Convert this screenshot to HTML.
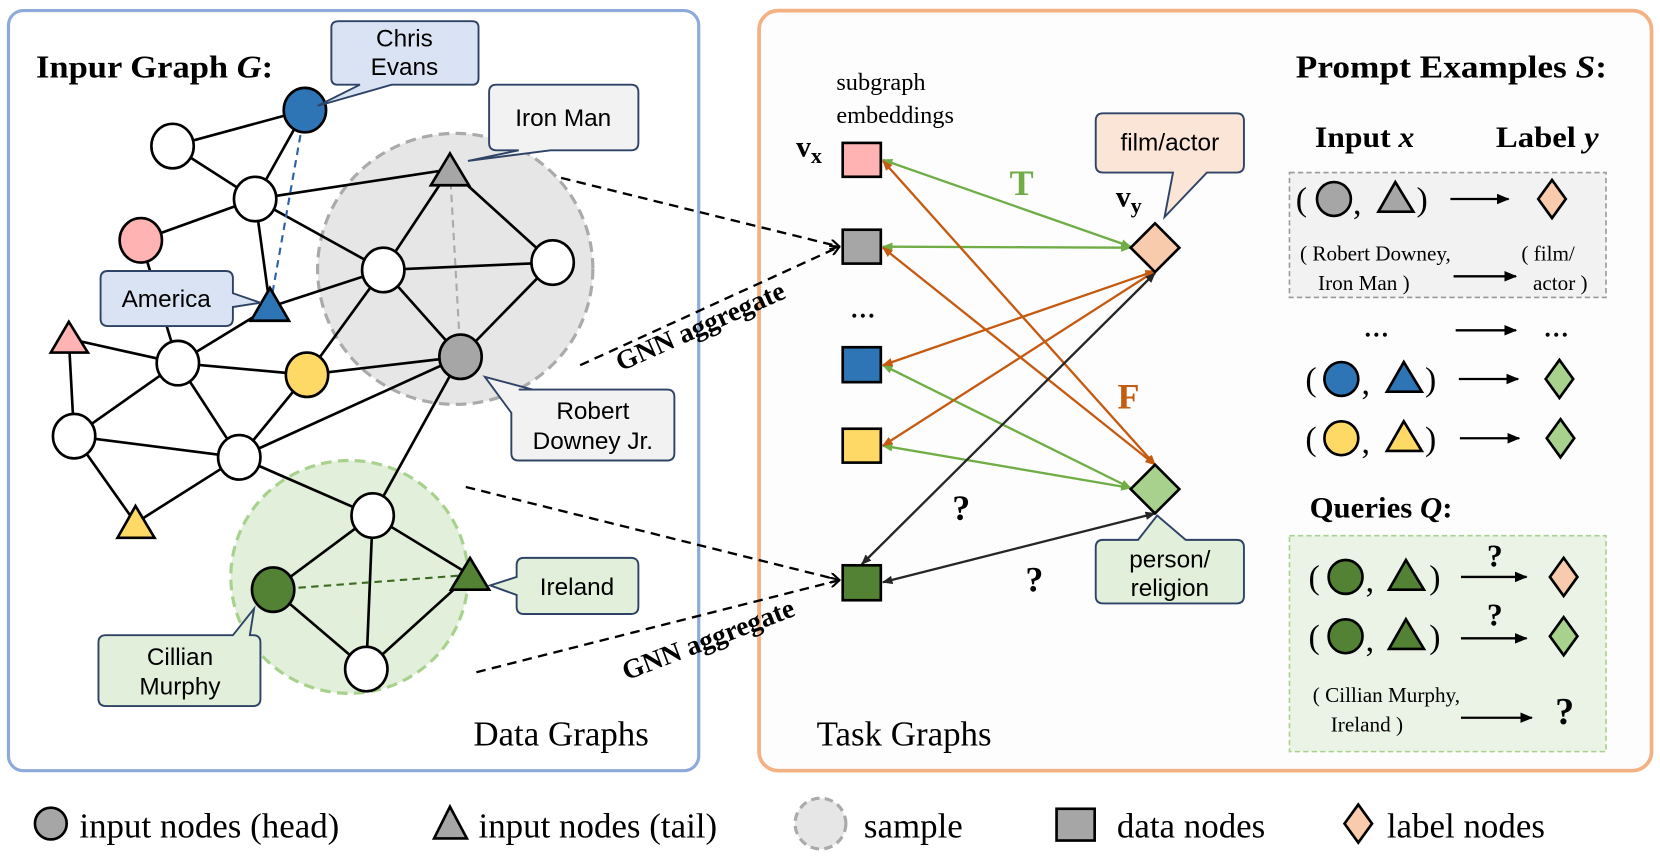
<!DOCTYPE html>
<html><head><meta charset="utf-8"><style>
html,body{margin:0;padding:0;background:#fff;}
svg{display:block;}
text{font-family:"Liberation Serif",serif;}
.s text{font-family:"Liberation Sans","DejaVu Sans",sans-serif;}
</style></head><body>
<svg width="1660" height="867" viewBox="0 0 1568 819" preserveAspectRatio="none" xmlns="http://www.w3.org/2000/svg">
<defs>
<marker id="ag" markerWidth="10" markerHeight="8" refX="9" refY="4" orient="auto-start-reverse" markerUnits="userSpaceOnUse"><path d="M0,0 L10,4 L0,8 z" fill="#70ad47"/></marker>
<marker id="ao" markerWidth="10" markerHeight="8" refX="9" refY="4" orient="auto-start-reverse" markerUnits="userSpaceOnUse"><path d="M0,0 L10,4 L0,8 z" fill="#c55a11"/></marker>
<marker id="ak" markerWidth="10" markerHeight="8" refX="9" refY="4" orient="auto-start-reverse" markerUnits="userSpaceOnUse"><path d="M0,0 L10,4 L0,8 z" fill="#262626"/></marker>
<marker id="ab" markerWidth="12" markerHeight="10" refX="11" refY="5" orient="auto" markerUnits="userSpaceOnUse"><path d="M0,0 L12,5 L0,10 z" fill="#000"/></marker>
<marker id="dv" markerWidth="10" markerHeight="10" refX="9" refY="5" orient="auto" markerUnits="userSpaceOnUse"><path d="M0,0 L9,5 L0,10" fill="none" stroke="#000" stroke-width="2"/></marker>
</defs>
<rect x="8" y="10" width="652" height="718" rx="14" fill="#fff" stroke="#8eaadb" stroke-width="3"/>
<rect x="717" y="10" width="843" height="718" rx="18" fill="#fdfdfd" stroke="#f4b183" stroke-width="3.5"/>

<ellipse cx="430" cy="254" rx="130" ry="128" fill="#e6e6e6" stroke="#aaa" stroke-width="3" stroke-dasharray="10,6"/>
<ellipse cx="330" cy="545" rx="112" ry="110" fill="#e2efda" stroke="#a9d18e" stroke-width="3" stroke-dasharray="10,6"/>

<text x="34" y="73" font-size="30" font-weight="bold" textLength="224" lengthAdjust="spacingAndGlyphs">Inpur Graph <tspan font-style="italic">G</tspan>:</text>

<g stroke="#000" stroke-width="2.5">
<line x1="163" y1="138" x2="288" y2="104"/><line x1="288" y1="104" x2="241" y2="188"/>
<line x1="163" y1="138" x2="241" y2="188"/><line x1="241" y1="188" x2="133" y2="227"/>
<line x1="241" y1="188" x2="425" y2="160"/><line x1="241" y1="188" x2="362" y2="255"/>
<line x1="241" y1="188" x2="255" y2="290"/><line x1="133" y1="227" x2="168" y2="343"/>
<line x1="255" y1="290" x2="362" y2="255"/><line x1="255" y1="290" x2="168" y2="343"/>
<line x1="168" y1="343" x2="65" y2="320"/><line x1="65" y1="320" x2="70" y2="412"/>
<line x1="168" y1="343" x2="70" y2="412"/><line x1="168" y1="343" x2="290" y2="354"/>
<line x1="168" y1="343" x2="226" y2="432"/><line x1="70" y1="412" x2="226" y2="432"/>
<line x1="70" y1="412" x2="128" y2="494"/><line x1="290" y1="354" x2="435" y2="337"/>
<line x1="290" y1="354" x2="226" y2="432"/><line x1="226" y1="432" x2="435" y2="337"/>
<line x1="226" y1="432" x2="352" y2="487"/><line x1="425" y1="160" x2="362" y2="255"/>
<line x1="425" y1="160" x2="522" y2="248"/><line x1="362" y1="255" x2="522" y2="248"/>
<line x1="362" y1="255" x2="435" y2="337"/><line x1="522" y1="248" x2="435" y2="337"/>
<line x1="362" y1="255" x2="290" y2="354"/><line x1="435" y1="337" x2="352" y2="487"/>
<line x1="226" y1="432" x2="128" y2="494"/>
<line x1="352" y1="487" x2="258" y2="557"/><line x1="352" y1="487" x2="346" y2="632"/>
<line x1="352" y1="487" x2="444" y2="543"/><line x1="258" y1="557" x2="346" y2="632"/>
<line x1="444" y1="543" x2="346" y2="632"/>
</g>
<line x1="288" y1="104" x2="255" y2="290" stroke="#2e5fa8" stroke-width="2" stroke-dasharray="7,5"/>
<line x1="425" y1="160" x2="435" y2="337" stroke="#aaa" stroke-width="2" stroke-dasharray="7,5"/>
<line x1="258" y1="557" x2="444" y2="543" stroke="#3d6b22" stroke-width="2" stroke-dasharray="7,5"/>

<g stroke="#000" stroke-width="2.5">
<ellipse cx="163" cy="138" rx="20" ry="21" fill="#fff"/>
<ellipse cx="288" cy="104" rx="20" ry="21" fill="#2e75b6"/>
<ellipse cx="241" cy="188" rx="20" ry="21" fill="#fff"/>
<ellipse cx="133" cy="227" rx="20" ry="21" fill="#ffb3b3"/>
<ellipse cx="168" cy="343" rx="20" ry="21" fill="#fff"/>
<ellipse cx="290" cy="354" rx="20" ry="21" fill="#ffd966"/>
<ellipse cx="70" cy="412" rx="20" ry="21" fill="#fff"/>
<ellipse cx="226" cy="432" rx="20" ry="21" fill="#fff"/>
<ellipse cx="362" cy="255" rx="20" ry="21" fill="#fff"/>
<ellipse cx="522" cy="248" rx="20" ry="21" fill="#fff"/>
<ellipse cx="435" cy="337" rx="20" ry="21" fill="#a6a6a6"/>
<ellipse cx="352" cy="487" rx="20" ry="21" fill="#fff"/>
<ellipse cx="258" cy="557" rx="20" ry="21" fill="#548235"/>
<ellipse cx="346" cy="632" rx="20" ry="21" fill="#fff"/>
<polygon points="255,272 237,303 273,303" fill="#2e75b6"/>
<polygon points="65,304 48,333 83,333" fill="#ffb3b3"/>
<polygon points="128,478 111,508 146,508" fill="#ffd966"/>
<polygon points="425,145 407,175 443,175" fill="#a6a6a6"/>
<polygon points="444,527 426,557 462,557" fill="#548235"/>
</g>

<g class="s" font-size="23" text-anchor="middle" stroke-width="1.8" stroke="#2f4366">
<path d="M320,20 H446 Q452,20 452,26 V74 Q452,80 446,80 H370 L300,100 L340,80 H319 Q313,80 313,74 V26 Q313,20 320,20 Z" fill="#dae3f3"/>
<text x="382" y="44" stroke="none">Chris</text><text x="382" y="71" stroke="none">Evans</text>
<path d="M469,80 H596 Q603,80 603,87 V135 Q603,142 596,142 H520 L442,152 L490,142 H469 Q462,142 462,135 V87 Q462,80 469,80 Z" fill="#f2f2f2"/>
<text x="532" y="119" stroke="none">Iron Man</text>
<path d="M102,256 H213 Q220,256 220,263 V277 L246,286 L220,290 V301 Q220,308 213,308 H102 Q95,308 95,301 V263 Q95,256 102,256 Z" fill="#dae3f3"/>
<text x="157" y="290" stroke="none">America</text>
<path d="M490,368 H630 Q637,368 637,375 V428 Q637,435 630,435 H490 Q483,435 483,428 V390 L458,356 L503,368 Z" fill="#f2f2f2"/>
<text x="560" y="396" stroke="none">Robert</text><text x="560" y="424" stroke="none">Downey Jr.</text>
<path d="M495,527 H596 Q603,527 603,534 V573 Q603,580 596,580 H495 Q488,580 488,573 V562 L463,553 L488,545 V534 Q488,527 495,527 Z" fill="#e2efda"/>
<text x="545" y="562" stroke="none">Ireland</text>
<path d="M100,600 H220 L240,575 L236,600 H239 Q246,600 246,607 V660 Q246,667 239,667 H100 Q93,667 93,660 V607 Q93,600 100,600 Z" fill="#e2efda"/>
<text x="170" y="628" stroke="none">Cillian</text><text x="170" y="656" stroke="none">Murphy</text>
</g>

<g stroke="#000" stroke-width="2.2" stroke-dasharray="9,6" fill="none">
<line x1="530" y1="168" x2="793" y2="233" marker-end="url(#dv)"/>
<line x1="548" y1="345" x2="793" y2="233" marker-end="url(#dv)"/>
<line x1="440" y1="460" x2="793" y2="548" marker-end="url(#dv)"/>
<line x1="450" y1="635" x2="793" y2="548" marker-end="url(#dv)"/>
</g>
<text x="665" y="316" font-size="26" font-weight="bold" text-anchor="middle" transform="rotate(-24 665 316)">GNN aggregate</text>
<text x="672" y="612" font-size="26" font-weight="bold" text-anchor="middle" transform="rotate(-21 672 612)">GNN aggregate</text>

<text x="530" y="704" font-size="33" text-anchor="middle">Data Graphs</text>
<text x="854" y="704" font-size="33" text-anchor="middle">Task Graphs</text>

<text x="790" y="85" font-size="23">subgraph</text>
<text x="790" y="116" font-size="23">embeddings</text>
<text x="752" y="148" font-size="28" font-weight="bold">v<tspan font-size="21" dy="6">x</tspan></text>
<text x="1054" y="195" font-size="28" font-weight="bold">v<tspan font-size="21" dy="6">y</tspan></text>
<text x="815" y="300" font-size="24" font-weight="bold" text-anchor="middle">…</text>

<g stroke-width="2.2" fill="none">
<line x1="834" y1="151" x2="1068" y2="233" stroke="#70ad47" marker-start="url(#ag)" marker-end="url(#ag)"/>
<line x1="834" y1="233" x2="1068" y2="234" stroke="#70ad47" marker-start="url(#ag)" marker-end="url(#ag)"/>
<line x1="834" y1="345" x2="1068" y2="461" stroke="#70ad47" marker-start="url(#ag)" marker-end="url(#ag)"/>
<line x1="834" y1="421" x2="1068" y2="461" stroke="#70ad47" marker-start="url(#ag)" marker-end="url(#ag)"/>
<line x1="834" y1="152" x2="1091" y2="439" stroke="#c55a11" marker-start="url(#ao)" marker-end="url(#ao)"/>
<line x1="834" y1="234" x2="1091" y2="439" stroke="#c55a11" marker-start="url(#ao)" marker-end="url(#ao)"/>
<line x1="834" y1="345" x2="1091" y2="256" stroke="#c55a11" marker-start="url(#ao)" marker-end="url(#ao)"/>
<line x1="834" y1="421" x2="1091" y2="256" stroke="#c55a11" marker-start="url(#ao)" marker-end="url(#ao)"/>
<line x1="814" y1="533" x2="1091" y2="258" stroke="#262626" marker-start="url(#ak)" marker-end="url(#ak)"/>
<line x1="834" y1="550" x2="1091" y2="485" stroke="#262626" marker-start="url(#ak)" marker-end="url(#ak)"/>
</g>
<g stroke="#000" stroke-width="2.5">
<rect x="796" y="135" width="36" height="32" fill="#ffb3b3"/>
<rect x="796" y="217" width="36" height="32" fill="#a6a6a6"/>
<rect x="796" y="328" width="36" height="33" fill="#2e75b6"/>
<rect x="796" y="405" width="36" height="32" fill="#ffd966"/>
<rect x="796" y="534" width="36" height="33" fill="#548235"/>
<polygon points="1091,211 1114,234 1091,257 1068,234" fill="#f8cbad"/>
<polygon points="1091,439 1114,462 1091,485 1068,462" fill="#a9d18e"/>
</g>
<text x="965" y="184" font-size="34" font-weight="bold" fill="#70ad47" text-anchor="middle">T</text>
<text x="1066" y="386" font-size="34" font-weight="bold" fill="#c55a11" text-anchor="middle">F</text>
<text x="908" y="491" font-size="34" font-weight="bold" text-anchor="middle">?</text>
<text x="977" y="559" font-size="34" font-weight="bold" text-anchor="middle">?</text>

<g class="s" font-size="23" text-anchor="middle" stroke-width="1.8" stroke="#2f4366">
<path d="M1042,107 H1168 Q1175,107 1175,114 V156 Q1175,163 1168,163 H1140 L1100,205 L1108,163 H1042 Q1035,163 1035,156 V114 Q1035,107 1042,107 Z" fill="#fbe5d6"/>
<text x="1105" y="142" stroke="none">film/actor</text>
<path d="M1042,510 H1075 L1093,487 L1120,510 H1168 Q1175,510 1175,517 V563 Q1175,570 1168,570 H1042 Q1035,570 1035,563 V517 Q1035,510 1042,510 Z" fill="#e2efda"/>
<text x="1105" y="536" stroke="none">person/</text><text x="1105" y="563" stroke="none">religion</text>
</g>

<text x="1224" y="73" font-size="30" font-weight="bold" textLength="294" lengthAdjust="spacingAndGlyphs">Prompt Examples <tspan font-style="italic">S</tspan>:</text>
<text x="1242" y="139" font-size="28" font-weight="bold" textLength="94" lengthAdjust="spacingAndGlyphs">Input <tspan font-style="italic">x</tspan></text>
<text x="1413" y="139" font-size="28" font-weight="bold" textLength="97" lengthAdjust="spacingAndGlyphs">Label <tspan font-style="italic">y</tspan></text>
<rect x="1218" y="163" width="299" height="118" fill="#f2f2f2" stroke="#999" stroke-width="1.5" stroke-dasharray="5,3"/>
<rect x="1218" y="506" width="299" height="204" fill="#ebf3e6" stroke="#a9d18e" stroke-width="1.5" stroke-dasharray="5,3"/>

<g font-size="32">
<text x="1224" y="199">(</text><text x="1278" y="202">,</text><text x="1338" y="199">)</text>
<text x="1233" y="369">(</text><text x="1286" y="372">,</text><text x="1346" y="369">)</text>
<text x="1233" y="425">(</text><text x="1286" y="428">,</text><text x="1346" y="425">)</text>
<text x="1236" y="556">(</text><text x="1290" y="559">,</text><text x="1350" y="556">)</text>
<text x="1236" y="612">(</text><text x="1290" y="615">,</text><text x="1350" y="612">)</text>
</g>
<g stroke="#000" stroke-width="2.5">
<circle cx="1260" cy="188" r="16" fill="#a6a6a6"/><polygon points="1318,172 1302,200 1335,200" fill="#a6a6a6"/>
<circle cx="1267" cy="358" r="16" fill="#2e75b6"/><polygon points="1326,342 1310,370 1343,370" fill="#2e75b6"/>
<circle cx="1267" cy="414" r="16" fill="#ffd966"/><polygon points="1326,398 1310,426 1343,426" fill="#ffd966"/>
<circle cx="1271" cy="545" r="16" fill="#548235"/><polygon points="1328,529 1312,557 1345,557" fill="#548235"/>
<circle cx="1271" cy="601" r="16" fill="#548235"/><polygon points="1328,585 1312,613 1345,613" fill="#548235"/>
</g>
<g stroke="#000" stroke-width="2.5">
<polygon points="1466,170 1479,188 1466,206 1453,188" fill="#f8cbad"/>
<polygon points="1473,340 1486,358 1473,376 1460,358" fill="#a9d18e"/>
<polygon points="1474,396 1487,414 1474,432 1461,414" fill="#a9d18e"/>
<polygon points="1477,527 1490,545 1477,563 1464,545" fill="#f8cbad"/>
<polygon points="1477,583 1490,601 1477,619 1464,601" fill="#a9d18e"/>
</g>
<g stroke="#000" stroke-width="2.2" marker-end="url(#ab)">
<line x1="1370" y1="188" x2="1425" y2="188"/>
<line x1="1373" y1="261" x2="1432" y2="261"/>
<line x1="1375" y1="312" x2="1432" y2="312"/>
<line x1="1378" y1="358" x2="1434" y2="358"/>
<line x1="1379" y1="414" x2="1435" y2="414"/>
<line x1="1380" y1="545" x2="1442" y2="545"/>
<line x1="1380" y1="603" x2="1442" y2="603"/>
<line x1="1380" y1="678" x2="1447" y2="678"/>
</g>
<g font-size="20">
<text x="1228" y="246">( Robert Downey,</text>
<text x="1245" y="274">Iron Man   )</text>
<text x="1437" y="246">( film/</text>
<text x="1448" y="274">actor )</text>
<text x="1240" y="663">( Cillian Murphy,</text>
<text x="1257" y="691">Ireland      )</text>
</g>
<text x="1300" y="318" font-size="24" font-weight="bold" text-anchor="middle">…</text>
<text x="1470" y="318" font-size="24" font-weight="bold" text-anchor="middle">…</text>
<text x="1237" y="489" font-size="28" font-weight="bold" textLength="135" lengthAdjust="spacingAndGlyphs">Queries <tspan font-style="italic">Q</tspan>:</text>
<text x="1412" y="535" font-size="30" font-weight="bold" text-anchor="middle">?</text>
<text x="1412" y="591" font-size="30" font-weight="bold" text-anchor="middle">?</text>
<text x="1478" y="684" font-size="36" font-weight="bold" text-anchor="middle">?</text>

<circle cx="48" cy="778" r="15" fill="#a6a6a6" stroke="#000" stroke-width="2.5"/>
<text x="75" y="791" font-size="33">input nodes (head)</text>
<polygon points="425,762 410,792 441,792" fill="#a6a6a6" stroke="#000" stroke-width="2.5"/>
<text x="452" y="791" font-size="33">input nodes (tail)</text>
<circle cx="775" cy="778" r="24" fill="#e6e6e6" stroke="#aaa" stroke-width="3" stroke-dasharray="8,5"/>
<text x="816" y="791" font-size="33">sample</text>
<rect x="998" y="764" width="36" height="30" fill="#a6a6a6" stroke="#000" stroke-width="2.5"/>
<text x="1055" y="791" font-size="33">data nodes</text>
<polygon points="1283,760 1296,778 1283,796 1270,778" fill="#f8cbad" stroke="#000" stroke-width="2.5"/>
<text x="1310" y="791" font-size="33">label nodes</text>
</svg>
</body></html>
